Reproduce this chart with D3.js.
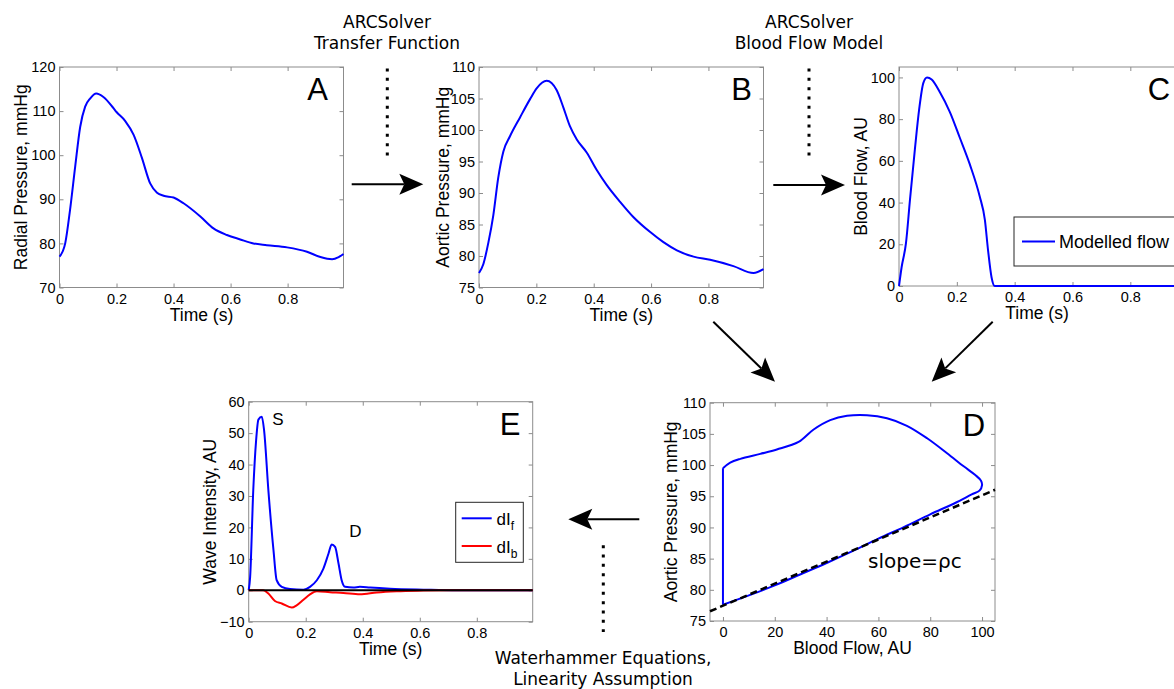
<!DOCTYPE html>
<html lang="en">
<head>
<meta charset="UTF-8">
<title>ARCSolver wave intensity workflow</title>
<script src="https://d3js.org/d3.v7.min.js"></script>
<style>
  body { margin: 0; background: #fff; }
  svg text { font-family: "Liberation Sans", Arial, sans-serif; fill: #000; }
  .note { font-family: "DejaVu Sans", sans-serif !important; font-size: 17px; }
  .tick line { stroke: #8c8c8c; }
  .tick text { font-size: 14.5px; }
  .axis-label { font-size: 17.5px; }
  .letter { font-size: 31px; }
</style>
</head>
<body>
<svg id="fig" width="1174" height="689"></svg>
<script>
// A: radial pressure (mmHg) over one beat
const timeA = [0, 0.02, 0.037, 0.055, 0.0725, 0.09, 0.108, 0.129, 0.154, 0.19, 0.2, 0.23, 0.26, 0.289, 0.318, 0.342, 0.365, 0.4, 0.435, 0.494, 0.54, 0.587, 0.634, 0.68, 0.727, 0.798, 0.868, 0.915, 0.956, 0.979, 0.996];
const radialPressure = [77.0, 80.0, 87.6, 97.4, 106.4, 111.0, 112.9, 114.0, 113.2, 110.6, 109.8, 107.8, 104.6, 99.4, 93.6, 91.5, 90.8, 90.4, 89.1, 86.1, 83.4, 81.9, 80.9, 80.0, 79.6, 79.1, 78.1, 76.9, 76.4, 76.9, 77.6];

// B: aortic pressure (mmHg)
const timeB = [0, 0.015, 0.033, 0.05, 0.067, 0.085, 0.108, 0.143, 0.178, 0.201, 0.236, 0.271, 0.294, 0.317, 0.341, 0.376, 0.41, 0.445, 0.492, 0.538, 0.597, 0.643, 0.69, 0.748, 0.806, 0.887, 0.957, 0.992];
const aorticPressure = [77.3, 78.7, 82.2, 86.5, 92.4, 96.6, 99.0, 102.0, 104.9, 106.6, 107.8, 106.3, 103.6, 100.6, 98.5, 96.4, 93.7, 91.3, 88.6, 86.2, 83.8, 82.2, 80.9, 79.9, 79.4, 78.4, 77.3, 77.9];

// C: modelled blood flow (AU)
const timeC = [0, 0.009, 0.024, 0.038, 0.055, 0.07, 0.084, 0.097, 0.113, 0.141, 0.176, 0.21, 0.245, 0.279, 0.297, 0.308, 0.32, 0.331, 0.5, 0.996];
const bloodFlow = [0, 9, 20.4, 41.4, 65.6, 85, 97.3, 100, 99.0, 93, 83.4, 71.2, 58.3, 43, 31.7, 17.1, 4.2, 0, 0, 0];

// D: pressure-flow loop
const loopFlow = [0, 10, 20, 30, 40, 50, 60, 70, 80, 90, 96, 99, 100, 99.6, 97.4, 92.9, 86.5, 78.8, 71, 63.3, 55.6, 47.9, 41.4, 35, 29.2, 20.8, 14.4, 6.7, 2.8, 0, 0];
const loopPressure = [77.6, 79.1, 80.7, 82.5, 84.3, 86.2, 88.2, 90.1, 92.1, 94.0, 95.3, 95.9, 96.8, 97.5, 98.4, 99.8, 101.9, 104.3, 106.3, 107.5, 108.0, 107.9, 107.2, 105.7, 103.7, 102.5, 101.8, 101.0, 100.4, 99.5, 77.6];
const slopeFlow = [-5, 105];
const slopePressure = [76.56, 96.04];

// E: wave intensity (AU)
const timeEf = [0, 0.005, 0.016, 0.026, 0.034, 0.046, 0.054, 0.069, 0.087, 0.098, 0.116, 0.145, 0.192, 0.215, 0.239, 0.262, 0.28, 0.291, 0.303, 0.315, 0.326, 0.338, 0.367, 0.39, 0.426, 0.496, 0.613, 0.73, 0.996];
const forwardWave = [0, 4.2, 31.8, 47.7, 54.3, 55.2, 50.9, 31.8, 12.7, 3.2, 1.1, 0.4, 0.2, 1.1, 3.2, 6.9, 11.7, 14.6, 13.8, 8.5, 3.2, 1.1, 0.85, 1.1, 0.85, 0.5, 0.2, 0, 0];
const timeEb = [0, 0.051, 0.069, 0.092, 0.116, 0.151, 0.168, 0.192, 0.215, 0.239, 0.285, 0.332, 0.39, 0.449, 0.519, 0.613, 0.73, 0.996];
const backwardWave = [0, 0, -1.06, -3.4, -4.2, -5.5, -4.8, -3.0, -1.3, -0.3, -0.6, -0.85, -1.3, -0.7, -0.3, -0.1, 0, 0];

// tick values
const timeTicks = [0, 0.2, 0.4, 0.6, 0.8];
const radialTicks = [70, 80, 90, 100, 110, 120];
const aorticTicks = [75, 80, 85, 90, 95, 100, 105, 110];
const flowTicks = [0, 20, 40, 60, 80, 100];
const intensityTicks = [-10, 0, 10, 20, 30, 40, 50, 60];

const svg = d3.select('#fig');
const fmt = d3.format('~g');

function panel(o) {
    const x = d3.scaleLinear().domain(o.xDomain).range([o.left, o.right]);
    const y = d3.scaleLinear().domain(o.yDomain).range([o.bottom, o.top]);
    const g = svg.append('g');

    g.append('rect')
        .attr('x', o.left).attr('y', o.top)
        .attr('width', o.right - o.left).attr('height', o.bottom - o.top)
        .attr('fill', '#fff').attr('stroke', '#8c8c8c');

    const clean = s => s.select('.domain').remove();
    g.append('g').attr('transform', `translate(0,${o.bottom})`)
        .call(d3.axisBottom(x).tickValues(o.xTicks).tickSize(-4).tickPadding(6).tickFormat(fmt)).call(clean);
    g.append('g').attr('transform', `translate(0,${o.top})`)
        .call(d3.axisTop(x).tickValues(o.xTicks).tickSize(-4).tickFormat('')).call(clean);
    g.append('g').attr('transform', `translate(${o.left},0)`)
        .call(d3.axisLeft(y).tickValues(o.yTicks).tickSize(-4).tickPadding(4).tickFormat(fmt)).call(clean);
    g.append('g').attr('transform', `translate(${o.right},0)`)
        .call(d3.axisRight(y).tickValues(o.yTicks).tickSize(-4).tickFormat('')).call(clean);

    g.append('text').attr('class', 'axis-label')
        .attr('x', (o.left + o.right) / 2 + (o.xLabelShift || 0)).attr('y', o.bottom + 33)
        .attr('text-anchor', 'middle').text(o.xLabel);
    g.append('text').attr('class', 'axis-label')
        .attr('transform', `translate(${o.yLabelX},${(o.top + o.bottom) / 2}) rotate(-90)`)
        .attr('dy', '0.35em').attr('text-anchor', 'middle').text(o.yLabel);
    g.append('text').attr('class', 'letter')
        .attr('x', o.letterX).attr('y', o.top + 33)
        .attr('text-anchor', 'middle').text(o.letter);
    return { x, y, g };
}

function trace(p, xs, ys, color, curve) {
    const pts = xs.map((v, i) => [v, ys[i]]);
    p.g.append('path')
        .attr('d', d3.line().x(d => p.x(d[0])).y(d => p.y(d[1])).curve(curve)(pts))
        .attr('fill', 'none').attr('stroke', color).attr('stroke-width', 2)
        .attr('stroke-linejoin', 'round');
}

function arrow(x1, y1, x2, y2) {
    const a = Math.atan2(y2 - y1, x2 - x1);
    const ux = Math.cos(a), uy = Math.sin(a);
    const len = 24, half = 10.5, notch = 19;
    const bx = x2 - ux * len, by = y2 - uy * len;
    svg.append('line')
        .attr('x1', x1).attr('y1', y1)
        .attr('x2', x2 - ux * notch).attr('y2', y2 - uy * notch)
        .attr('stroke', '#000').attr('stroke-width', 2);
    const head = [[x2, y2], [bx - uy * half, by + ux * half], [x2 - ux * notch, y2 - uy * notch], [bx + uy * half, by - ux * half]];
    svg.append('path').attr('d', d3.line()(head) + 'Z').attr('fill', '#000');
}

function dotted(x, y1, y2) {
    svg.append('line')
        .attr('x1', x).attr('x2', x).attr('y1', y1).attr('y2', y2)
        .attr('stroke', '#000').attr('stroke-width', 3)
        .attr('stroke-dasharray', '3 6.33');
}

function note(x, y, lines) {
    const t = svg.append('text').attr('class', 'note').attr('text-anchor', 'middle');
    lines.forEach((s, i) => t.append('tspan').attr('x', x).attr('y', y + i * 20.5).text(s));
}

// ---- panels ----
const pA = panel({ left: 59.5, right: 343.5, top: 67, bottom: 287.5, xDomain: [0, 0.996], yDomain: [70, 120],
    xTicks: timeTicks, yTicks: radialTicks, xLabel: 'Time (s)', yLabel: 'Radial Pressure, mmHg', yLabelX: 21, letter: 'A', letterX: 317.5 });
trace(pA, timeA, radialPressure, '#0000ff', d3.curveMonotoneX);

const pB = panel({ left: 479, right: 763.5, top: 67, bottom: 287.5, xDomain: [0, 0.992], yDomain: [75, 110],
    xTicks: timeTicks, yTicks: aorticTicks, xLabel: 'Time (s)', yLabel: 'Aortic Pressure, mmHg', yLabelX: 442.5, letter: 'B', letterX: 741.5 });
trace(pB, timeB, aorticPressure, '#0000ff', d3.curveMonotoneX);

const pC = panel({ left: 899, right: 1187, top: 67, bottom: 286, xDomain: [0, 0.996], yDomain: [0, 105],
    xTicks: timeTicks, yTicks: flowTicks, xLabel: 'Time (s)', xLabelShift: -6, yLabel: 'Blood Flow, AU', yLabelX: 861, letter: 'C', letterX: 1159 });
trace(pC, timeC, bloodFlow, '#0000ff', d3.curveMonotoneX);

// legend C
pC.g.append('rect').attr('x', 1014).attr('y', 217).attr('width', 200).attr('height', 49)
    .attr('fill', '#fff').attr('stroke', '#262626');
pC.g.append('line').attr('x1', 1022).attr('x2', 1055).attr('y1', 241.5).attr('y2', 241.5)
    .attr('stroke', '#0000ff').attr('stroke-width', 2);
pC.g.append('text').attr('x', 1059).attr('y', 248).attr('font-size', 18).text('Modelled flow');

const pD = panel({ left: 710, right: 995, top: 402.7, bottom: 621, xDomain: [-5, 105], yDomain: [75, 110],
    xTicks: flowTicks, yTicks: aorticTicks, xLabel: 'Blood Flow, AU', yLabel: 'Aortic Pressure, mmHg', yLabelX: 670.5, letter: 'D', letterX: 974 });
// smooth loop, then the straight drop back at zero flow
const nLoop = loopFlow.length;
trace(pD, loopFlow.slice(0, nLoop - 1), loopPressure.slice(0, nLoop - 1), '#0000ff', d3.curveCatmullRom.alpha(0.5));
trace(pD, loopFlow.slice(nLoop - 2), loopPressure.slice(nLoop - 2), '#0000ff', d3.curveLinear);
pD.g.append('path')
    .attr('d', d3.line()(slopeFlow.map((v, i) => [pD.x(v), pD.y(slopePressure[i])])))
    .attr('stroke', '#000').attr('stroke-width', 2.5).attr('stroke-dasharray', '7 4').attr('fill', 'none');
pD.g.append('text').attr('class', 'note').attr('x', 868).attr('y', 568).style('font-size', '20px').text('slope=ρc');

const pE = panel({ left: 248.7, right: 532.7, top: 401.7, bottom: 621.7, xDomain: [0, 0.996], yDomain: [-10, 60],
    xTicks: timeTicks, yTicks: intensityTicks, xLabel: 'Time (s)', yLabel: 'Wave Intensity, AU', yLabelX: 210, letter: 'E', letterX: 510 });
trace(pE, timeEf, forwardWave, '#0000ff', d3.curveMonotoneX);
trace(pE, timeEb, backwardWave, '#ff0000', d3.curveMonotoneX);
pE.g.append('line').attr('x1', pE.x(0)).attr('x2', pE.x(0.996)).attr('y1', pE.y(0)).attr('y2', pE.y(0))
    .attr('stroke', '#000').attr('stroke-width', 2);
pE.g.append('text').attr('x', 278).attr('y', 425).attr('font-size', 17).attr('text-anchor', 'middle').text('S');
pE.g.append('text').attr('x', 355.5).attr('y', 537).attr('font-size', 17).attr('text-anchor', 'middle').text('D');

// legend E
pE.g.append('rect').attr('x', 455.7).attr('y', 502.3).attr('width', 67.6).attr('height', 60)
    .attr('fill', '#fff').attr('stroke', '#262626');
[['#0000ff', 518.3, 'f'], ['#ff0000', 546, 'b']].forEach(([c, yy, sub]) => {
    pE.g.append('line').attr('x1', 461.7).attr('x2', 491.7).attr('y1', yy).attr('y2', yy)
        .attr('stroke', c).attr('stroke-width', 2);
    const t = pE.g.append('text').attr('x', 496.5).attr('y', yy + 7).attr('font-size', 17);
    t.append('tspan').text('dI');
    t.append('tspan').attr('dy', 5).attr('font-size', 12).text(sub);
});

// ---- workflow arrows and notes ----
arrow(351.7, 184.3, 423.3, 184.3);
arrow(773.3, 185, 845, 185);
arrow(713.3, 321.7, 775, 381.7);
arrow(992.7, 321.7, 931.7, 381.7);
arrow(639.3, 519.3, 568.3, 519.3);

dotted(387.3, 68.5, 156);
dotted(809, 68.5, 156);
dotted(603.3, 545.2, 632);

note(387, 28, ['ARCSolver', 'Transfer Function']);
note(809, 28, ['ARCSolver', 'Blood Flow Model']);
note(603, 664, ['Waterhammer Equations,', 'Linearity Assumption']);
</script>
</body>
</html>
